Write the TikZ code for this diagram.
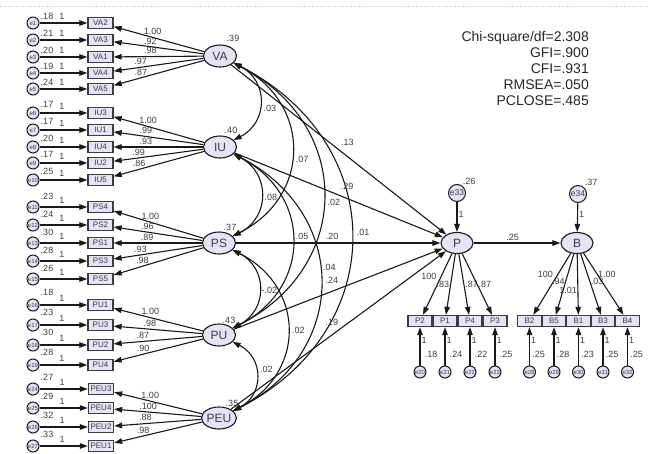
\documentclass[tikz,border=0pt]{standalone}
\usepackage{fontspec}
\setmainfont{Liberation Sans}
\usetikzlibrary{arrows.meta,calc,shapes.geometric}
\definecolor{fillc}{RGB}{232,226,246}
\definecolor{linec}{RGB}{25,25,25}
\definecolor{txtc}{RGB}{60,60,60}
\tikzset{
  lat/.style={ellipse, draw=linec, fill=fillc, line width=1.1pt, minimum width=33pt, minimum height=22pt, inner sep=0pt, font=\fontsize{12}{12}\selectfont, text=txtc},
  obs/.style={rectangle, draw=linec!85, fill=fillc, line width=1.3pt, minimum width=25pt, minimum height=11pt, inner sep=0pt, font=\fontsize{8}{8}\selectfont, text=txtc},
  err/.style={circle, draw=linec, fill=fillc, line width=1pt, minimum size=12pt, inner sep=0pt, font=\fontsize{6}{6}\selectfont, text=txtc},
  bigerr/.style={err, minimum size=17pt, font=\fontsize{8.5}{8.5}\selectfont},
  lab/.style={font=\fontsize{9}{9}\selectfont, text=txtc, inner sep=1pt},
  arr/.style={-{Triangle[length=8pt,width=5.5pt]}, draw=linec, line width=1.1pt},
  cov/.style={{Triangle[length=8pt,width=5.5pt]}-{Triangle[length=8pt,width=5.5pt]}, draw=linec, line width=1.1pt, looseness=1.3},
}
\begin{document}
\begin{tikzpicture}[x=1pt,y=-1pt]
\useasboundingbox (0,0) rectangle (648,453);
\draw[gray!45, dotted, line width=0.6pt] (0,6) -- (648,6);

% latent variables
\node[lat] (VA) at (220,56) {VA};
\node[lat] (IU) at (220,147) {IU};
\node[lat] (PS) at (219,243) {PS};
\node[lat] (PU) at (219,335) {PU};
\node[lat] (PEU) at (219,418) {PEU};
\node[lab] (vVA) at (233,38) {.39};
\node[lab] (vIU) at (231,130) {.40};
\node[lab] (vPS) at (230,227) {.37};
\node[lab] (vPU) at (229,320) {.43};
\node[lab] (vPEU) at (232,403) {.35};

\node[lat, minimum width=32pt, minimum height=21pt] (P) at (457,243) {P};
\node[lat, minimum width=32pt, minimum height=21pt] (B) at (577,243) {B};

% VA block
\foreach \n/\y/\v/\l/\e/\p in {VA2/23/.18/1.00/1/.57, VA3/40/.21/.92/2/.59, VA1/57/.20/.98/3/.59, VA4/73/.19/.97/4/.70, VA5/89/.24/.87/5/.70}{
  \node[obs] (\n) at (100.5,\y) {\n};
  \node[err] (e\e) at (33,\y) {e\e};
  \draw[arr] (e\e) -- node[lab,above=1.5pt,pos=0.47]{1} (\n);
  \node[lab] (v\e) at (47,\y-7) {\v};
  \draw[arr] (VA) -- node[lab,above=1pt,pos=\p]{\l} (\n);
}
% IU block
\foreach \n/\y/\v/\l/\e/\p in {IU3/113/.17/1.00/6/.62, IU1/130/.17/.99/7/.64, IU4/147/.20/.93/8/.64, IU2/163/.17/.99/9/.72, IU5/180/.25/.86/10/.72}{
  \node[obs] (\n) at (100.5,\y) {\n};
  \node[err] (e\e) at (33,\y) {e\e};
  \draw[arr] (e\e) -- node[lab,above=1.5pt,pos=0.47]{1} (\n);
  \node[lab] (v\e) at (47,\y-9) {\v};
  \draw[arr] (IU) -- node[lab,above=1pt,pos=\p]{\l} (\n);
}
% PS block
\foreach \n/\y/\v/\l/\e/\p in {PS4/207/.23/1.00/11/.59, PS2/225/.24/.96/12/.62, PS1/243/.30/.89/13/.62, PS3/261/.28/.93/14/.70, PS5/279/.26/.98/15/.68}{
  \node[obs] (\n) at (100.5,\y) {\n};
  \node[err] (e\e) at (33,\y) {e\e};
  \draw[arr] (e\e) -- node[lab,above=1.5pt,pos=0.47]{1} (\n);
  \node[lab] (v\e) at (47,\y-11) {\v};
  \draw[arr] (PS) -- node[lab,above=1pt,pos=\p]{\l} (\n);
}
% PU block
\foreach \n/\y/\v/\l/\e/\p in {PU1/305/.18/1.00/16/.59, PU3/325/.23/.98/17/.59, PU2/345/.30/.87/18/.67, PU4/365/.28/.90/19/.67}{
  \node[obs] (\n) at (100.5,\y) {\n};
  \node[err] (e\e) at (33,\y) {e\e};
  \draw[arr] (e\e) -- node[lab,above=1.5pt,pos=0.47]{1} (\n);
  \node[lab] (v\e) at (47,\y-13) {\v};
  \draw[arr] (PU) -- node[lab,above=1pt,pos=\p]{\l} (\n);
}
% PEU block
\foreach \n/\y/\v/\l/\e/\p in {PEU3/389/.27/1.00/24/.59, PEU4/408/.29/.100/25/.61, PEU2/427/.32/.88/26/.64, PEU1/446/.33/.98/27/.67}{
  \node[obs] (\n) at (101,\y) {\n};
  \node[err] (e\e) at (33,\y) {e\e};
  \draw[arr] (e\e) -- node[lab,above=1.5pt,pos=0.47]{1} (\n);
  \node[lab] (v\e) at (47,\y-12) {\v};
  \draw[arr] (PEU) -- node[lab,above=1pt,pos=\p]{\l} (\n);
}

% covariances
\draw[cov] (VA) to[bend left=63] node[lab,pos=0.58,anchor=west,xshift=3pt]{.03} (IU);
\draw[cov] (VA) to[bend left=63] node[lab,pos=0.55,anchor=west,xshift=3pt]{.07} (PS);
\draw[cov] (VA) to[bend left=63] node[lab,pos=0.52,anchor=west,xshift=3pt]{.02} (PU);
\draw[cov] (VA) to[bend left=63] node[lab,pos=0.5,anchor=south west,xshift=4pt]{.01} (PEU);
\draw[cov] (IU) to[bend left=63] node[lab,pos=0.52,anchor=west,xshift=2pt]{.08} (PS);
\draw[cov] (IU) to[bend left=63] node[lab,pos=0.5,anchor=south west,xshift=2pt]{.05} (PU);
\draw[cov] (IU) to[bend left=63] node[lab,pos=0.45,anchor=west,xshift=2pt]{.04} (PEU);
\draw[cov] (PS) to[bend left=63] node[lab,pos=0.52,anchor=west,xshift=1pt]{-.02} (PU);
\draw[cov] (PS) to[bend left=63] node[lab,pos=0.5,anchor=west,xshift=3pt]{.02} (PEU);
\draw[cov] (PU) to[bend left=63] node[lab,pos=0.42,anchor=west,xshift=3pt]{.02} (PEU);

% structural paths
\draw[arr] (VA) -- node[lab,above=9pt,pos=0.54]{.13} (P);
\draw[arr] (IU) -- node[lab,above=7pt,pos=0.54]{.29} (P);
\draw[arr] (PS) -- node[lab,above=2pt,pos=0.47]{.20} (P);
\draw[arr] (PU) -- node[lab,above=6pt,pos=0.47]{.24} (P);
\draw[arr] (PEU) -- node[lab,above=8pt,pos=0.47]{.19} (P);
\draw[arr] (P) -- node[lab,above=1pt,pos=0.45]{.25} (B);

% structural errors
\node[bigerr] (e33) at (457,193) {e33};
\node[lab] (v33) at (469,181) {.26};
\draw[arr] (e33) -- node[lab,right,pos=0.4]{1} (P);
\node[bigerr] (e34) at (578,194) {e34};
\node[lab] (v34) at (591,182) {.37};
\draw[arr] (e34) -- node[lab,right,pos=0.4]{1} (B);

% P indicators
\foreach \n/\x/\l/\e/\v/\s/\p/\d in {P2/420/100/20/.18/left/0.38/-3, P1/445/.83/21/.24/left/0.5/0, P4/470/.87/22/.22/right/0.5/0, P3/495/.87/23/.25/right/0.5/0}{
  \node[obs,minimum width=24pt] (\n) at (\x,321) {\n};
  \node[err] (e\e) at (\x,372) {e\e};
  \draw[arr] (e\e) -- node[lab,right,pos=0.65]{1} (\n);
  \node[lab] (v\e) at (\x+11,354) {\v};
  \draw[arr] (P) -- node[lab,\s,pos=\p,xshift=\d pt]{\l} (\n);
}
% B indicators
\foreach \n/\x/\l/\e/\v/\s/\p/\d in {B2/529.5/100/28/.25/left/0.34/-4, B5/554/.94/29/.28/left/0.45/0, B1/578.5/1.01/30/.23/left/0.6/0, B3/603/.03/31/.25/right/0.45/0, B4/627.5/1.00/32/.25/right/0.34/0}{
  \node[obs,minimum width=23.5pt] (\n) at (\x,321) {\n};
  \node[err] (e\e) at (\x,372) {e\e};
  \draw[arr] (e\e) -- node[lab,right,pos=0.65]{1} (\n);
  \node[lab] (v\e) at (\x+9,354) {\v};
  \draw[arr] (B) -- node[lab,\s,pos=\p,inner sep=0.5pt,xshift=\d pt]{\l} (\n);
}

% fit statistics
\node[font=\fontsize{14}{16}\selectfont, align=right, anchor=north east, inner sep=0pt, text=black!85] (fit) at (589,31.5) {Chi-square/df=2.308\\GFI=.900\\CFI=.931\\RMSEA=.050\\PCLOSE=.485};
\end{tikzpicture}
\end{document}
